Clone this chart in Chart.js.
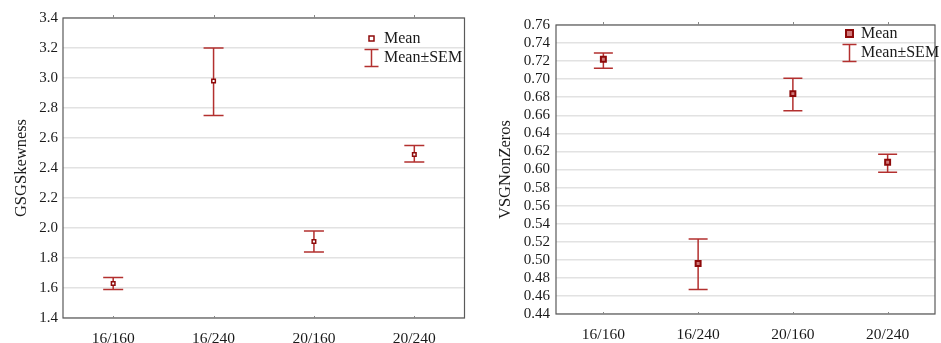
<!DOCTYPE html>
<html>
<head>
<meta charset="utf-8">
<script src="https://cdn.jsdelivr.net/npm/chart.js@4.4.0/dist/chart.umd.min.js"></script>
<style>
  html, body { margin: 0; padding: 0; background: #fff; }
  #wrap { width: 941px; height: 343px; position: relative; }
  .box { position: absolute; top: 0; height: 343px; }
</style>
</head>
<body>
<div id="wrap">
  <div class="box" style="left:0;width:470px"><canvas id="chartSkew"></canvas></div>
  <div class="box" style="left:470px;width:471px"><canvas id="chartNZ"></canvas></div>
</div>
<script>
// ── Data ──
const categories = ['16/160', '16/240', '20/160', '20/240'];

const skewMean = [1.63, 2.98, 1.91, 2.49];
const skewLow  = [1.59, 2.75, 1.84, 2.44];
const skewHigh = [1.67, 3.20, 1.98, 2.55];

const nzMean = [0.722, 0.496, 0.684, 0.608];
const nzLow  = [0.712, 0.467, 0.665, 0.597];
const nzHigh = [0.729, 0.523, 0.701, 0.617];

const legendLabels = ['Mean', 'Mean±SEM'];

const FONT = 'Liberation Serif, Times New Roman, serif';
const BAR_COLOR = '#b3302f';
const MARK_COLOR = '#8e0a0a';
const GRID_COLOR = '#e2e2e2';
const FRAME_COLOR = '#5a5a5a';

// Error bars, frame, category ticks and legend
const decorPlugin = {
  id: 'decor',
  beforeDatasetsDraw(chart) {
    const { ctx, chartArea: a } = chart;
    const xs = chart.scales.x;
    ctx.save();
    ctx.strokeStyle = FRAME_COLOR;
    ctx.lineWidth = 1.2;
    ctx.strokeRect(a.left, a.top, a.right - a.left, a.bottom - a.top);
    ctx.strokeStyle = '#888';
    ctx.lineWidth = 1;
    categories.forEach((c, i) => {
      const x = Math.round(xs.getPixelForValue(i)) + 0.5;
      ctx.beginPath();
      ctx.moveTo(x, a.top - 3); ctx.lineTo(x, a.top);
      ctx.moveTo(x, a.bottom - 2); ctx.lineTo(x, a.bottom);
      ctx.stroke();
    });
    // error bars
    const o = chart.options.plugins.decor;
    const ys = chart.scales.y;
    ctx.strokeStyle = BAR_COLOR;
    ctx.lineWidth = 1.5;
    o.low.forEach((lo, i) => {
      const x = xs.getPixelForValue(i);
      const y1 = ys.getPixelForValue(lo);
      const y2 = ys.getPixelForValue(o.high[i]);
      const cw = o.cap;
      ctx.beginPath();
      ctx.moveTo(x, y1); ctx.lineTo(x, y2);
      ctx.moveTo(x - cw, y1); ctx.lineTo(x + cw, y1);
      ctx.moveTo(x - cw, y2); ctx.lineTo(x + cw, y2);
      ctx.stroke();
    });
    ctx.restore();
  },
  afterDraw(chart) {
    const { ctx } = chart;
    const o = chart.options.plugins.decor;
    const L = o.legend;
    ctx.save();
    // mean marker
    ctx.fillStyle = o.markFill;
    ctx.strokeStyle = MARK_COLOR;
    ctx.lineWidth = o.markBorder;
    const r = o.markSize;
    ctx.fillRect(L.x - r, L.y1 - r, 2 * r, 2 * r);
    ctx.strokeRect(L.x - r, L.y1 - r, 2 * r, 2 * r);
    // error bar icon
    ctx.strokeStyle = BAR_COLOR;
    ctx.lineWidth = 1.5;
    ctx.beginPath();
    ctx.moveTo(L.x, L.y2 - 8.5); ctx.lineTo(L.x, L.y2 + 8.5);
    ctx.moveTo(L.x - 7, L.y2 - 8.5); ctx.lineTo(L.x + 7, L.y2 - 8.5);
    ctx.moveTo(L.x - 7, L.y2 + 8.5); ctx.lineTo(L.x + 7, L.y2 + 8.5);
    ctx.stroke();
    ctx.fillStyle = '#1a1a1a';
    ctx.font = '16px ' + FONT;
    ctx.textBaseline = 'middle';
    ctx.fillText(legendLabels[0], L.tx, L.y1);
    ctx.fillText(legendLabels[1], L.tx, L.y2);
    ctx.restore();
  }
};

function makeChart(canvasId, cfg) {
  const canvas = document.getElementById(canvasId);
  return new Chart(canvas, {
    type: 'line',
    data: {
      labels: categories,
      datasets: [{
        label: 'Mean',
        data: cfg.mean,
        showLine: false,
        pointStyle: 'rect',
        pointRadius: cfg.markSize,
        pointBorderWidth: cfg.markBorder,
        pointBorderColor: MARK_COLOR,
        pointBackgroundColor: cfg.markFill
      }]
    },
    options: {
      responsive: true,
      maintainAspectRatio: false,
      animation: false,
      layout: { padding: { top: cfg.top, right: cfg.right, left: 0, bottom: 0 } },
      plugins: {
        legend: { display: false },
        tooltip: { enabled: false },
        decor: {
          low: cfg.low, high: cfg.high, cap: cfg.cap,
          legend: cfg.legend,
          markSize: cfg.markSize, markBorder: cfg.markBorder, markFill: cfg.markFill
        }
      },
      scales: {
        x: {
          offset: true,
          grid: { display: false, drawTicks: false },
          border: { display: false },
          ticks: { color: '#1a1a1a', padding: 12, font: { size: 15.5, family: FONT }, maxRotation: 0 },
          afterFit: s => { s.height = cfg.xHeight; }
        },
        y: {
          min: cfg.min, max: cfg.max,
          grid: { color: GRID_COLOR, lineWidth: 1.5, drawTicks: false },
          border: { display: false },
          ticks: {
            stepSize: cfg.step, padding: cfg.tickPad, color: '#1a1a1a', autoSkip: false,
            font: { size: 15, family: FONT },
            callback: v => v.toFixed(cfg.digits)
          },
          title: {
            display: true, text: cfg.title, color: '#1a1a1a',
            font: { size: 16.5, family: FONT }, padding: { top: cfg.titlePad, bottom: 0 }
          },
          afterFit: s => { s.width = cfg.yWidth; }
        }
      }
    },
    plugins: [decorPlugin]
  });
}

makeChart('chartSkew', {
  mean: skewMean, low: skewLow, high: skewHigh,
  min: 1.4, max: 3.4, step: 0.2, digits: 1,
  title: 'GSGSkewness', titlePad: 12,
  yWidth: 63, xHeight: 25, top: 18, right: 3, tickPad: 5, cap: 10,
  markSize: 2.5, markBorder: 1.5, markFill: '#ffffff',
  legend: { x: 371.5, y1: 38.5, y2: 58, tx: 384 }
});

makeChart('chartNZ', {
  mean: nzMean, low: nzLow, high: nzHigh,
  min: 0.44, max: 0.76, step: 0.02, digits: 2,
  title: 'VSGNonZeros', titlePad: 26,
  yWidth: 86, xHeight: 29, top: 25, right: 1, tickPad: 6, cap: 9.5,
  markSize: 3.5, markBorder: 2, markFill: '#d07a7a',
  legend: { x: 379.5, y1: 33.5, y2: 53, tx: 391 }
});
</script>
</body>
</html>
